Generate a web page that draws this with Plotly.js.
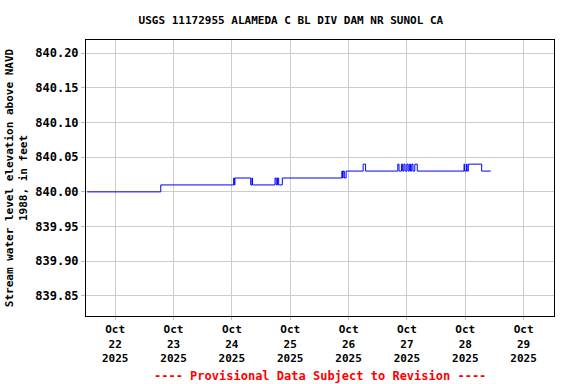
<!DOCTYPE html>
<html><head><meta charset="utf-8">
<script src="https://cdn.plot.ly/plotly-3.0.1.min.js"></script>
<style>html,body{margin:0;padding:0;background:#fff}#c{width:576px;height:384px}</style>
</head><body><div id="c"></div>
<script>
const times = [
 "2025-10-21 12:30","2025-10-22 18:45",
 "2025-10-24 00:45","2025-10-24 01:00","2025-10-24 01:15",
 "2025-10-24 07:45","2025-10-24 08:15","2025-10-24 08:30",
 "2025-10-24 17:45","2025-10-24 18:15","2025-10-24 18:45","2025-10-24 19:15","2025-10-24 20:45",
 "2025-10-25 21:15","2025-10-25 21:30","2025-10-25 21:45","2025-10-25 22:15","2025-10-25 23:00",
 "2025-10-26 06:00","2025-10-26 07:00",
 "2025-10-26 20:15","2025-10-26 20:45","2025-10-26 21:45","2025-10-26 22:15","2025-10-26 22:45","2025-10-26 23:15",
 "2025-10-27 00:00","2025-10-27 00:30","2025-10-27 01:00","2025-10-27 01:30","2025-10-27 02:00","2025-10-27 02:30",
 "2025-10-27 03:15","2025-10-27 04:15",
 "2025-10-27 23:30","2025-10-27 23:45","2025-10-28 00:30","2025-10-28 00:45","2025-10-28 01:15",
 "2025-10-28 06:45","2025-10-28 10:30"
];
const values = [
 840.00,840.01,
 840.02,840.01,840.02,
 840.01,840.02,840.01,
 840.02,840.01,840.02,840.01,840.02,
 840.03,840.02,840.03,840.02,840.03,
 840.04,840.03,
 840.04,840.03,840.04,840.03,840.04,840.03,
 840.04,840.03,840.04,840.03,840.04,840.03,
 840.04,840.03,
 840.04,840.03,840.04,840.03,840.04,
 840.03,840.03
];
const tickDates = ["2025-10-22","2025-10-23","2025-10-24","2025-10-25","2025-10-26","2025-10-27","2025-10-28","2025-10-29"];
const tickLabels = ["Oct<br>22<br>2025","Oct<br>23<br>2025","Oct<br>24<br>2025","Oct<br>25<br>2025","Oct<br>26<br>2025","Oct<br>27<br>2025","Oct<br>28<br>2025","Oct<br>29<br>2025"];
const yTicks = [839.85,839.90,839.95,840.00,840.05,840.10,840.15,840.20];

const F = "DejaVu Sans Mono, monospace";
Plotly.newPlot("c", [{
  x: times, y: values, type: "scatter", mode: "lines",
  line: {color: "#0000ff", width: 1, shape: "hv"}, hoverinfo: "skip"
}], {
  width: 576, height: 384,
  margin: {l: 86, r: 22, t: 40, b: 68},
  paper_bgcolor: "#fff", plot_bgcolor: "#fff",
  showlegend: false,
  title: {text: "<b>USGS 11172955 ALAMEDA C BL DIV DAM NR SUNOL CA</b>", font: {family: F, size: 11, color: "#000"},
          x: 0.505, xref: "container", xanchor: "center", y: 0.948, yref: "container", yanchor: "middle"},
  xaxis: {
    type: "date", range: ["2025-10-21 12:00", "2025-10-29 12:30"],
    tickvals: tickDates, ticktext: tickLabels.map(s => "<b>" + s + "</b>"),
    tickfont: {family: F, size: 11, color: "#000"},
    showgrid: true, gridcolor: "#cccccc", gridwidth: 1,
    ticks: "outside", ticklen: 3, tickcolor: "#bbbbbb",
    showline: true, linecolor: "#000", linewidth: 1, mirror: true, zeroline: false
  },
  yaxis: {
    range: [839.821, 840.219],
    tickvals: yTicks, ticktext: yTicks.map(v => "<b>" + v.toFixed(2) + "</b>"),
    tickfont: {family: F, size: 12, color: "#000"},
    showgrid: true, gridcolor: "#cccccc", gridwidth: 1,
    ticks: "outside", ticklen: 4, tickcolor: "#bbbbbb",
    showline: true, linecolor: "#000", linewidth: 1, mirror: true, zeroline: false,
    title: {text: "<b>Stream water level elevation above NAVD<br>1988, in feet</b>", font: {family: F, size: 11, color: "#000"}, standoff: 5}
  },
  annotations: [{
    text: "<b>---- Provisional Data Subject to Revision ----</b>", showarrow: false,
    xref: "paper", yref: "paper", x: 0.5, y: -0.218, xanchor: "center", yanchor: "middle",
    font: {family: F, size: 12, color: "#ff0000"}
  }]
}, {staticPlot: true});
</script></body></html>
